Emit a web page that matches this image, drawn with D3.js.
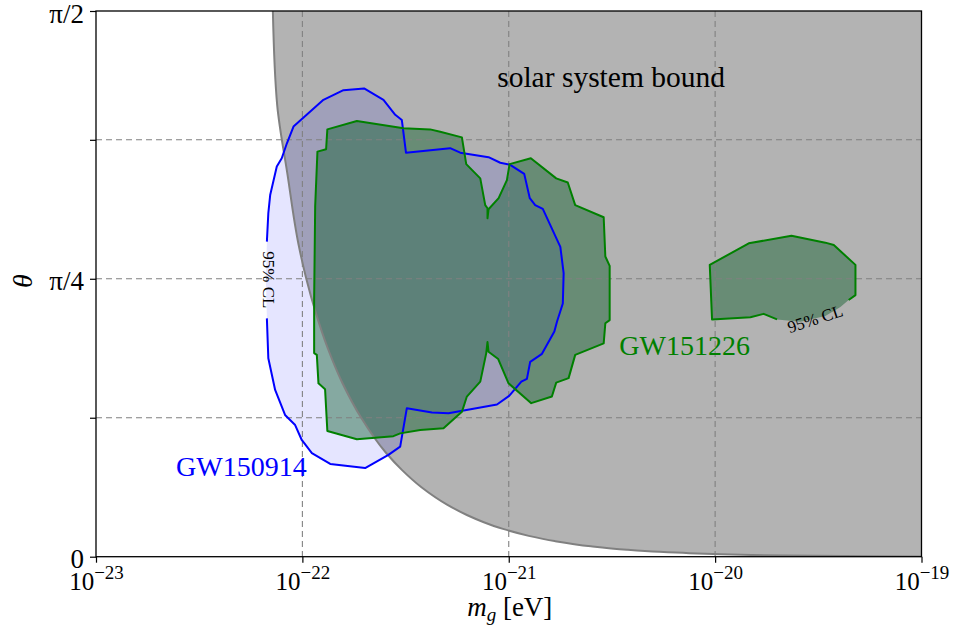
<!DOCTYPE html>
<html>
<head>
<meta charset="utf-8">
<script src="https://cdn.jsdelivr.net/npm/d3@7"></script>
<style>
  body { margin: 0; background: #fff; }
  svg { display: block; }
  text { font-family: "Liberation Serif", "Times New Roman", serif; }
</style>
</head>
<body>
<svg id="chart" width="955" height="632"></svg>
<script>
// Graviton mass m_g given as log10(m_g / eV), mixing angle theta in radians.

// GW150914 95% CL contour (open where the inline label sits)
const gw150914LogM = [-22.172,-22.165,-22.156,-22.124,-22.100,-22.075,-22.043,-21.898,-21.801,-21.701,-21.607,-21.550,-21.518,-21.498,-21.284,-21.235,-21.098,-21.041,-20.993,-20.925,-20.898,-20.872,-20.835,-20.750,-20.734,-20.738,-20.766,-20.779,-20.839,-20.896,-20.912,-20.939,-20.998,-21.057,-21.292,-21.372,-21.494,-21.526,-21.583,-21.696,-21.865,-21.954,-22.003,-22.035,-22.084,-22.132,-22.165,-22.172];
const gw150914Theta = [0.907,0.989,1.041,1.123,1.147,1.190,1.238,1.315,1.343,1.348,1.315,1.272,1.257,1.163,1.176,1.163,1.150,1.134,1.128,1.102,1.032,1.012,1.001,0.892,0.816,0.729,0.677,0.648,0.584,0.561,0.512,0.504,0.463,0.438,0.413,0.415,0.427,0.317,0.293,0.255,0.267,0.298,0.336,0.379,0.408,0.480,0.571,0.686];
// part of the GW150914 contour hidden under its label
const gw150914LabelLogM = [-22.177];
const gw150914LabelTheta = [0.797];

// GW151226 95% CL contour, main region
const gw151226LogM = [-21.943,-21.943,-21.938,-21.927,-21.885,-21.879,-21.736,-21.510,-21.381,-21.332,-21.227,-21.206,-21.138,-21.114,-21.103,-21.103,-21.098,-21.049,-21.009,-20.996,-20.893,-20.770,-20.714,-20.678,-20.540,-20.532,-20.511,-20.511,-20.532,-20.540,-20.678,-20.710,-20.770,-20.791,-20.891,-21.001,-21.051,-21.098,-21.103,-21.109,-21.138,-21.203,-21.227,-21.316,-21.429,-21.526,-21.559,-21.736,-21.879,-21.890,-21.922,-21.930];
const gw151226Theta = [0.586,0.739,1.008,1.166,1.173,1.230,1.254,1.233,1.230,1.223,1.207,1.130,1.089,1.012,1.003,0.974,1.000,1.032,1.084,1.130,1.147,1.089,1.077,1.012,0.977,0.864,0.837,0.681,0.672,0.614,0.581,0.514,0.501,0.461,0.442,0.499,0.569,0.590,0.618,0.586,0.504,0.461,0.417,0.370,0.365,0.355,0.347,0.338,0.362,0.482,0.499,0.581];

// GW151226 95% CL contour, high-mass island (open where the inline label sits)
const islandLogM = [-19.353,-19.320,-19.320,-19.425,-19.466,-19.630,-19.837,-20.026,-20.015,-19.829,-19.765,-19.700];
const islandTheta = [0.739,0.753,0.840,0.897,0.904,0.924,0.902,0.840,0.683,0.689,0.699,0.683];
const islandLabelLogM = [-19.587,-19.466,-19.393];
const islandLabelTheta = [0.676,0.693,0.719];

// Solar system bound on m_g as a function of theta
const solarTheta = [1.5708,1.3,1.1,0.9,0.8,0.7,0.6,0.5,0.4,0.3,0.25,0.2,0.15,0.12,0.1,0.08,0.06,0.045,0.03,0.02,0.014,0.01,0.007,0.005,0.0035,0.0025,0.0018,0.0013,0.00075];
const solarLogM = [-22.143,-22.122,-22.072,-22.019,-21.981,-21.934,-21.877,-21.806,-21.715,-21.596,-21.518,-21.423,-21.299,-21.203,-21.124,-21.028,-20.903,-20.778,-20.602,-20.426,-20.271,-20.125,-19.970,-19.824,-19.670,-19.523,-19.380,-19.239,-19.0];

// Axis ticks
const xTickExponents = [-23, -22, -21, -20, -19];
const yTickValues = [0, 0.4, 0.8, 1.2, Math.PI / 2];
const yTickLabels = ["0", "", "\u03C0/4", "", "\u03C0/2"];

const svg = d3.select("#chart");
const frame = { left: 96, right: 921.5, top: 11, bottom: 556.7 };

const x = d3.scaleLog().domain([1e-23, 1e-19]).range([frame.left, frame.right]);
const y = d3.scaleLinear().domain([0, Math.PI / 2]).range([frame.bottom, frame.top]);

const pts = (lm, th) => d3.zip(lm, th);
const px = lm => x(Math.pow(10, lm));
const line = d3.line().x(d => px(d[0])).y(d => y(d[1]));

svg.append("defs").append("clipPath").attr("id", "plot")
  .append("rect").attr("x", frame.left).attr("y", frame.top)
  .attr("width", frame.right - frame.left).attr("height", frame.bottom - frame.top);

const plot = svg.append("g").attr("clip-path", "url(#plot)");

// excluded region
const solarPts = pts(solarLogM, solarTheta);
const solarCurve = d3.line().x(d => px(d[0])).y(d => y(d[1])).curve(d3.curveMonotoneY);
plot.append("path")
  .attr("d", solarCurve(solarPts) + "L" + x(1e-19) + "," + y(Math.PI / 2) + "Z")
  .attr("fill", "#b3b3b3");

// contour fills
const bluePts = pts(gw150914LogM, gw150914Theta);
const blueFill = bluePts.concat(pts(gw150914LabelLogM, gw150914LabelTheta));
plot.append("path").attr("d", line(blueFill) + "Z").attr("fill", "rgba(0,0,255,0.1)");

const greenPts = pts(gw151226LogM, gw151226Theta);
const islandPts = pts(islandLogM, islandTheta);
const islandFill = islandPts.concat(pts(islandLabelLogM, islandLabelTheta));
const greenFillColor = "rgba(0,85,30,0.42)";
plot.append("path").attr("d", line(greenPts) + "Z").attr("fill", greenFillColor);
plot.append("path").attr("d", line(islandFill) + "Z").attr("fill", greenFillColor);

// dashed grid
const grid = plot.append("g").attr("stroke", "#808080").attr("stroke-width", 1.1)
  .attr("stroke-dasharray", "6,4").attr("fill", "none");
xTickExponents.slice(1, -1).forEach(e => {
  grid.append("line").attr("x1", px(e)).attr("x2", px(e))
    .attr("y1", frame.top).attr("y2", frame.bottom);
});
yTickValues.slice(1, -1).forEach(v => {
  grid.append("line").attr("x1", frame.left).attr("x2", frame.right).attr("y1", y(v)).attr("y2", y(v));
});

// solar bound edge
plot.append("path").attr("d", solarCurve(solarPts)).attr("fill", "none")
  .attr("stroke", "#808080").attr("stroke-width", 2);

// contour lines
plot.append("path").attr("d", line(bluePts)).attr("fill", "none")
  .attr("stroke", "#0000ff").attr("stroke-width", 2).attr("stroke-linejoin", "round");
plot.append("path").attr("d", line(greenPts) + "Z").attr("fill", "none")
  .attr("stroke", "#008000").attr("stroke-width", 2).attr("stroke-linejoin", "round");
plot.append("path").attr("d", line(islandPts)).attr("fill", "none")
  .attr("stroke", "#008000").attr("stroke-width", 2).attr("stroke-linejoin", "round");

// inline contour labels
svg.append("text")
  .attr("transform", `translate(${px(-22.166)},${y(0.797)}) rotate(90)`)
  .attr("text-anchor", "middle").attr("dominant-baseline", "central")
  .attr("font-size", 17).attr("fill", "#000").text("95% CL");
svg.append("text")
  .attr("transform", `translate(${px(-19.515)},${y(0.684)}) rotate(-18)`)
  .attr("text-anchor", "middle").attr("dominant-baseline", "central")
  .attr("font-size", 17).attr("fill", "#000").text("95% CL");

// annotations
svg.append("text").attr("x", px(-22.612)).attr("y", y(0.2323))
  .attr("font-size", 28).attr("fill", "#0000ff").text("GW150914");
svg.append("text").attr("x", px(-20.464)).attr("y", y(0.5806))
  .attr("font-size", 28).attr("fill", "#008000").text("GW151226");
svg.append("text").attr("x", px(-21.056)).attr("y", y(1.352))
  .attr("font-size", 29.5).attr("fill", "#000").text("solar system bound");

// axes
const xAxis = d3.axisBottom(x)
  .tickValues(xTickExponents.map(e => Math.pow(10, e)))
  .tickFormat(() => "").tickSize(6).tickSizeOuter(0);
const gx = svg.append("g").attr("transform", `translate(0,${frame.bottom})`).call(xAxis);
gx.selectAll(".tick").each(function (d, i) {
  const t = d3.select(this).append("text")
    .attr("y", 33.5).attr("text-anchor", "middle").attr("fill", "#000")
    .attr("font-size", 25);
  t.append("tspan").text("10");
  t.append("tspan").attr("dy", -11).attr("font-size", 19).text("\u2212" + Math.abs(xTickExponents[i]));
});

const yAxis = d3.axisLeft(y).tickValues(yTickValues)
  .tickFormat((d, i) => yTickLabels[i]).tickSize(6).tickPadding(6).tickSizeOuter(0);
const gy = svg.append("g").attr("transform", `translate(${frame.left},0)`).call(yAxis);
gy.selectAll(".tick text").attr("font-size", 27).attr("font-family", '"Liberation Serif", serif')
  .attr("dy", "0.41em").attr("fill", "#000");

[gx, gy].forEach(g => {
  g.selectAll(".tick line").attr("stroke", "#000").attr("stroke-width", 1.2);
  g.select(".domain").remove();
});

// frame
svg.append("rect").attr("x", frame.left).attr("y", frame.top)
  .attr("width", frame.right - frame.left).attr("height", frame.bottom - frame.top)
  .attr("fill", "none").attr("stroke", "#000").attr("stroke-width", 1.3);

// axis titles
const xl = svg.append("text").attr("x", (frame.left + frame.right) / 2 + 1).attr("y", 616)
  .attr("text-anchor", "middle").attr("font-size", 27).attr("fill", "#000");
xl.append("tspan").attr("font-style", "italic").text("m");
xl.append("tspan").attr("font-style", "italic").attr("font-size", 19).attr("dy", 5).text("g");
xl.append("tspan").attr("dy", -5).text(" [eV]");

svg.append("text").attr("transform", "translate(22,281) rotate(-90)")
  .attr("text-anchor", "middle").attr("dominant-baseline", "central")
  .attr("font-size", 28).attr("font-style", "italic").attr("fill", "#000").text("\u03B8");
</script>
</body>
</html>
